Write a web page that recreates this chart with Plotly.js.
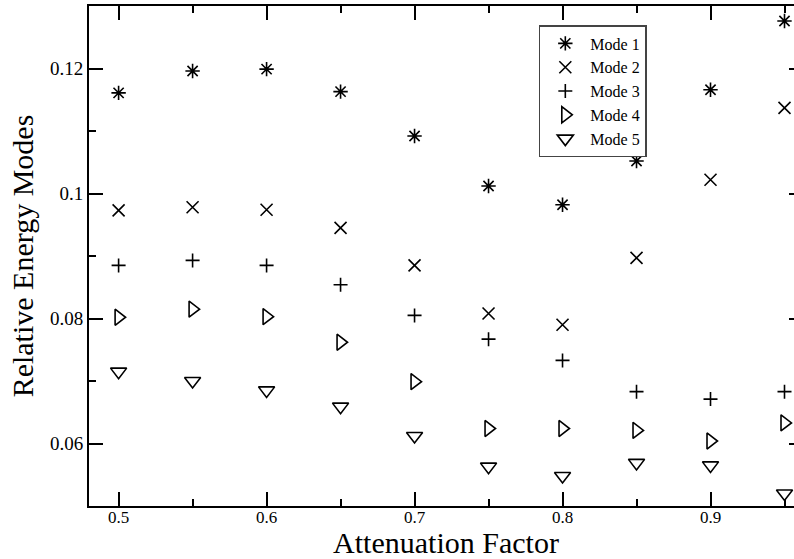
<!DOCTYPE html>
<html>
<head>
<meta charset="utf-8">
<script src="https://cdn.plot.ly/plotly-3.0.1.min.js"></script>
<style>
  html, body { margin: 0; padding: 0; overflow: hidden; background: #fff; }
  #chart { width: 810px; height: 559px; }
</style>
</head>
<body>
<div id="chart"></div>
<script>
// Attenuation factor sweep
const attenuation = [0.5, 0.55, 0.6, 0.65, 0.7, 0.75, 0.8, 0.85, 0.9, 0.95];

// Relative energy carried by each mode
const mode1 = [0.1161, 0.1196, 0.1199, 0.1163, 0.1092, 0.1012, 0.0982, 0.1052, 0.1166, 0.1276];
const mode2 = [0.0973, 0.0978, 0.0974, 0.0945, 0.0885, 0.0808, 0.0790, 0.0897, 0.1022, 0.1137];
const mode3 = [0.0885, 0.0893, 0.0885, 0.0854, 0.0805, 0.0767, 0.0733, 0.0683, 0.0671, 0.0683];
const mode4 = [0.0802, 0.0815, 0.0803, 0.0762, 0.0699, 0.0624, 0.0624, 0.0621, 0.0604, 0.0633];
const mode5 = [0.0715, 0.0700, 0.0685, 0.0659, 0.0612, 0.0563, 0.0548, 0.0569, 0.0565, 0.0520];

const seriesNames = ['Mode 1', 'Mode 2', 'Mode 3', 'Mode 4', 'Mode 5'];
const seriesValues = [mode1, mode2, mode3, mode4, mode5];
const seriesSymbols = ['asterisk-open', 'x-thin-open', 'cross-thin-open', 'triangle-right-open', 'triangle-down-open'];
const seriesSizes = [12, 12, 10, 14, 14];

const serif = 'Liberation Serif, Times New Roman, serif';

const traces = seriesNames.map((name, i) => ({
  type: 'scatter',
  mode: 'markers',
  name: name,
  x: attenuation,
  y: seriesValues[i],
  marker: {
    symbol: seriesSymbols[i],
    size: seriesSizes[i],
    color: '#000',
    line: { color: '#000', width: 1.6 }
  },
  cliponaxis: false
}));

const axisCommon = {
  showline: true,
  linecolor: '#000',
  linewidth: 2,
  mirror: 'ticks',
  ticks: 'inside',
  ticklen: 14,
  tickwidth: 2,
  tickcolor: '#000',
  showgrid: false,
  zeroline: false
};

const layout = {
  width: 810,
  height: 559,
  margin: { l: 89, r: 7, t: 6, b: 53 },
  paper_bgcolor: '#fff',
  plot_bgcolor: '#fff',
  font: { family: serif, color: '#000' },
  xaxis: Object.assign({}, axisCommon, {
    range: [0.48, 0.9625],
    tick0: 0.5,
    dtick: 0.1,
    tickfont: { family: serif, size: 17, color: '#000' },
    ticklabelstandoff: -5,
    minor: { dtick: 0.05, ticks: 'inside', ticklen: 7, tickwidth: 2, tickcolor: '#000', showgrid: false },
    title: { text: 'Attenuation Factor', font: { family: serif, size: 30, color: '#000' } }
  }),
  yaxis: Object.assign({}, axisCommon, {
    range: [0.05, 0.13],
    tick0: 0,
    dtick: 0.02,
    tickfont: { family: serif, size: 19, color: '#000' },
    minor: { dtick: 0.01, ticks: 'inside', ticklen: 7, tickwidth: 2, tickcolor: '#000', showgrid: false },
    title: { text: 'Relative Energy Modes', font: { family: serif, size: 30, color: '#000' }, standoff: 7 }
  }),
  legend: {
    x: 0.630,
    y: 0.962,
    xanchor: 'left',
    yanchor: 'top',
    bgcolor: '#fff',
    bordercolor: '#444',
    borderwidth: 1.5,
    font: { family: serif, size: 16, color: '#000' },
    itemwidth: 40,
    tracegroupgap: 0
  },
  showlegend: true
};

Plotly.newPlot('chart', traces, layout, { displayModeBar: false, staticPlot: true });
</script>
</body>
</html>
